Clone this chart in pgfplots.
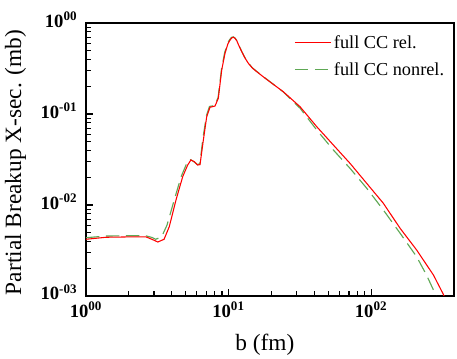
\documentclass[border=0pt]{standalone}
\usepackage{pgfplots}
\pgfplotsset{compat=1.18}
\usepackage{fontspec}
\setmainfont{Liberation Serif}

\definecolor{ccred}{RGB}{255,0,0}
\definecolor{ccgreen}{RGB}{95,168,85}
\newcommand{\tl}[1]{\textbf{10}\textsuperscript{\textbf{#1}}}

\begin{document}
\begin{tikzpicture}
\path[use as bounding box] (-64.5pt,-47.25pt) rectangle (278.25pt,222pt);
\begin{loglogaxis}[
  scale only axis, width=276pt, height=204.75pt,
  xmin=1, xmax=382, ymin=0.001, ymax=1,
  axis line style={line width=1.1pt},
  tick pos=left, tick align=inside,
  major tick length=5pt, minor tick length=3.5pt,
  every tick/.style={black, line width=0.8pt},
  xtick={1,10,100}, xticklabels={\tl{00},\tl{01},\tl{02}},
  ytick={0.001,0.01,0.1,1}, yticklabels={\tl{-03},\tl{-02},\tl{-01},\tl{00}},
  ticklabel style={font=\fontsize{14}{16}\selectfont},
  yticklabel style={anchor=base east, xshift=-3pt, yshift=-3pt},
  xticklabel style={yshift=-1pt},
  xlabel={b (fm)}, ylabel={Partial Breakup X-sec. (mb)},
  label style={font=\fontsize{17.5}{20}\selectfont},
  xlabel style={at={(axis description cs:0.486,-0.198)}, anchor=base},
  ylabel style={at={(axis description cs:-0.1766,0.489)}, anchor=base},
  legend style={draw=none, fill=none, at={(axis description cs:0.565,0.965)},
    anchor=north west, font=\fontsize{13.7}{16}\selectfont, row sep=5pt,
    inner sep=0pt, cells={anchor=west}},
  legend image code/.code={\draw[#1] (0pt,0pt) -- (27pt,0pt);},
  reverse legend,
]
% nonrelativistic
\addplot[ccgreen, line width=0.85pt, dash pattern=on 10pt off 5pt] coordinates {
  (1.00,0.00437) (1.38,0.00456) (2.00,0.00460) (2.64,0.00458) (2.90,0.00440)
  (3.09,0.00420) (3.40,0.00450) (3.70,0.0060) (4.15,0.0112) (4.65,0.0205)
  (5.05,0.0278) (5.35,0.0318) (5.70,0.0300) (6.05,0.0278) (6.30,0.0285)
  (6.60,0.0530) (7.00,0.0960) (7.35,0.1210) (8.00,0.1240) (8.45,0.152)
  (8.93,0.312) (9.40,0.475) (9.85,0.600) (10.20,0.660) (10.50,0.695) (10.78,0.705)
  (11.10,0.685) (11.40,0.645) (11.85,0.565)
  (12.38,0.488) (13.00,0.420) (13.77,0.364) (14.70,0.322) (15.77,0.294) (17.5,0.258)
  (19.5,0.227) (24.2,0.175)
  (31.8,0.1155) (41.6,0.0667) (54.4,0.0402) (71.2,0.0253) (93.2,0.0153)
  (122,0.00881) (160,0.00489) (209,0.00270) (245,0.00170) (281,0.00107) (290,0.00095)
};
\addlegendentry{full CC nonrel.}
% relativistic
\addplot[ccred, line width=0.8pt] coordinates {
  (1.00,0.00420) (1.38,0.00442) (2.00,0.00446) (2.64,0.00446) (2.95,0.00415)
  (3.19,0.00392) (3.53,0.00420) (3.84,0.00578) (4.28,0.01135) (4.77,0.0205)
  (5.17,0.0275) (5.45,0.0313) (5.75,0.0299) (6.08,0.0275) (6.31,0.0278)
  (6.66,0.0517) (7.03,0.0933) (7.41,0.1185) (8.04,0.1224) (8.48,0.149)
  (8.96,0.305) (9.45,0.465) (9.90,0.590) (10.25,0.650) (10.55,0.687) (10.81,0.697)
  (11.12,0.678) (11.42,0.639) (11.85,0.560)
  (12.38,0.484) (13.00,0.416) (13.77,0.361) (14.70,0.320) (15.77,0.292) (17.5,0.257)
  (19.5,0.226) (24.2,0.176)
  (31.8,0.120) (41.6,0.0725) (54.4,0.0456) (71.2,0.0287) (93.2,0.0173)
  (122,0.01044) (160,0.00554) (209,0.00320) (274,0.00170) (319,0.00107)
  (335,0.00091)
};
\addlegendentry{full CC rel.}
\end{loglogaxis}
\end{tikzpicture}
\end{document}
